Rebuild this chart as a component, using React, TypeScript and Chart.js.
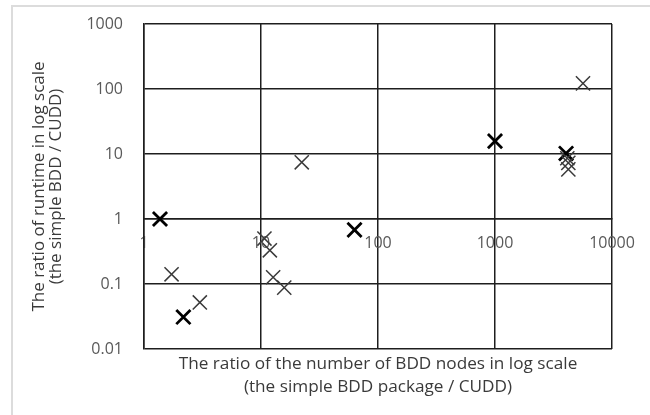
import React, { useEffect, useRef } from 'react';
import { Chart, registerables } from 'chart.js';

Chart.register(...registerables);

const xTickValues = [1, 10, 100, 1000, 10000];
const yTickValues = [0.01, 0.1, 1, 10, 100, 1000];

const thinX = [1.72, 3.0, 10.7, 11.9, 12.7, 15.8, 22.3, 4150, 4235, 4235, 5650];
const thinY = [0.141, 0.052, 0.5, 0.33, 0.127, 0.088, 7.45, 8.6, 7.3, 5.8, 122];
const boldX = [1.37, 2.17, 63, 1000, 4050];
const boldY = [1.0, 0.031, 0.68, 15.8, 10.2];

const xTitle = ['The ratio of the number of BDD nodes in log scale', '(the simple BDD package / CUDD)'];
const yTitle = ['The ratio of runtime in log scale', '(the simple BDD / CUDD)'];

const FONT = 'Open Sans';

export default function App() {
  const ref = useRef<HTMLCanvasElement>(null);

  useEffect(() => {
    document.body.style.margin = '0';
    const chart = new Chart(ref.current as HTMLCanvasElement, {
      type: 'scatter',
      data: {
        datasets: [
          {
            data: thinX.map((x, i) => ({ x, y: thinY[i] })),
            pointStyle: 'crossRot',
            pointRadius: 10,
            borderColor: '#3a3a3a',
            borderWidth: 1.5,
            backgroundColor: 'transparent',
          },
          {
            data: boldX.map((x, i) => ({ x, y: boldY[i] })),
            pointStyle: 'crossRot',
            pointRadius: 10,
            borderColor: '#000000',
            borderWidth: 2.8,
            backgroundColor: 'transparent',
          },
        ],
      },
      options: {
        animation: false,
        responsive: true,
        maintainAspectRatio: false,
        layout: { padding: { left: 0, top: 24, right: 38, bottom: 0 } },
        plugins: { legend: { display: false }, tooltip: { enabled: false } },
        scales: {
          x: {
            type: 'logarithmic',
            min: 1,
            max: 10000,
            position: { y: 1 } as any,
            afterBuildTicks: (s: any) => {
              s.ticks = xTickValues.map((v) => ({ value: v }));
            },
            ticks: {
              callback: (v: any) => String(v),
              color: '#595959',
              font: { family: FONT, size: 16 },
              padding: 15,
              autoSkip: false,
              maxRotation: 0,
            },
            grid: { color: '#1e1e1e', lineWidth: 1.5, drawTicks: false },
            border: { color: '#1e1e1e', width: 1.5 },
          },
          y: {
            type: 'logarithmic',
            min: 0.01,
            max: 1000,
            afterBuildTicks: (s: any) => {
              s.ticks = yTickValues.map((v) => ({ value: v }));
            },
            afterFit: (s: any) => {
              s.width = 144;
              s.paddingTop = 10;
              s.paddingBottom = 10;
            },
            ticks: {
              callback: (v: any) => String(v),
              color: '#595959',
              font: { family: FONT, size: 16 },
              padding: 21,
              autoSkip: false,
            },
            grid: { color: '#1e1e1e', lineWidth: 1.5, drawTicks: false },
            border: { color: '#1e1e1e', width: 1.5 },
            title: {
              display: true,
              text: yTitle,
              color: '#3a3a3a',
              font: { family: FONT, size: 17, lineHeight: 1.0 },
              padding: { top: 31, bottom: 0 },
            },
          },
          x2: {
            type: 'linear',
            axis: 'x',
            position: 'bottom',
            afterFit: (s: any) => {
              s.height = 66;
            },
            ticks: { display: false },
            grid: { display: false },
            border: { display: false },
            title: {
              display: true,
              text: xTitle,
              color: '#3a3a3a',
              font: { family: FONT, size: 17.2, lineHeight: 1.337 },
              padding: { top: 0, bottom: 16.5 },
            },
          },
        },
      },
    } as any);
    return () => chart.destroy();
  }, []);

  return (
    <div style={{ position: 'relative', width: 650, height: 415, overflow: 'hidden', background: '#ffffff' }}>
      <div
        style={{
          position: 'absolute',
          left: 11,
          top: 5,
          right: 0,
          bottom: 0,
          borderLeft: '2px solid #dcdcdc',
          borderTop: '2px solid #dcdcdc',
        }}
      />
      <div style={{ position: 'absolute', left: 0, top: 0, width: 650, height: 415 }}>
        <canvas ref={ref} />
      </div>
    </div>
  );
}
